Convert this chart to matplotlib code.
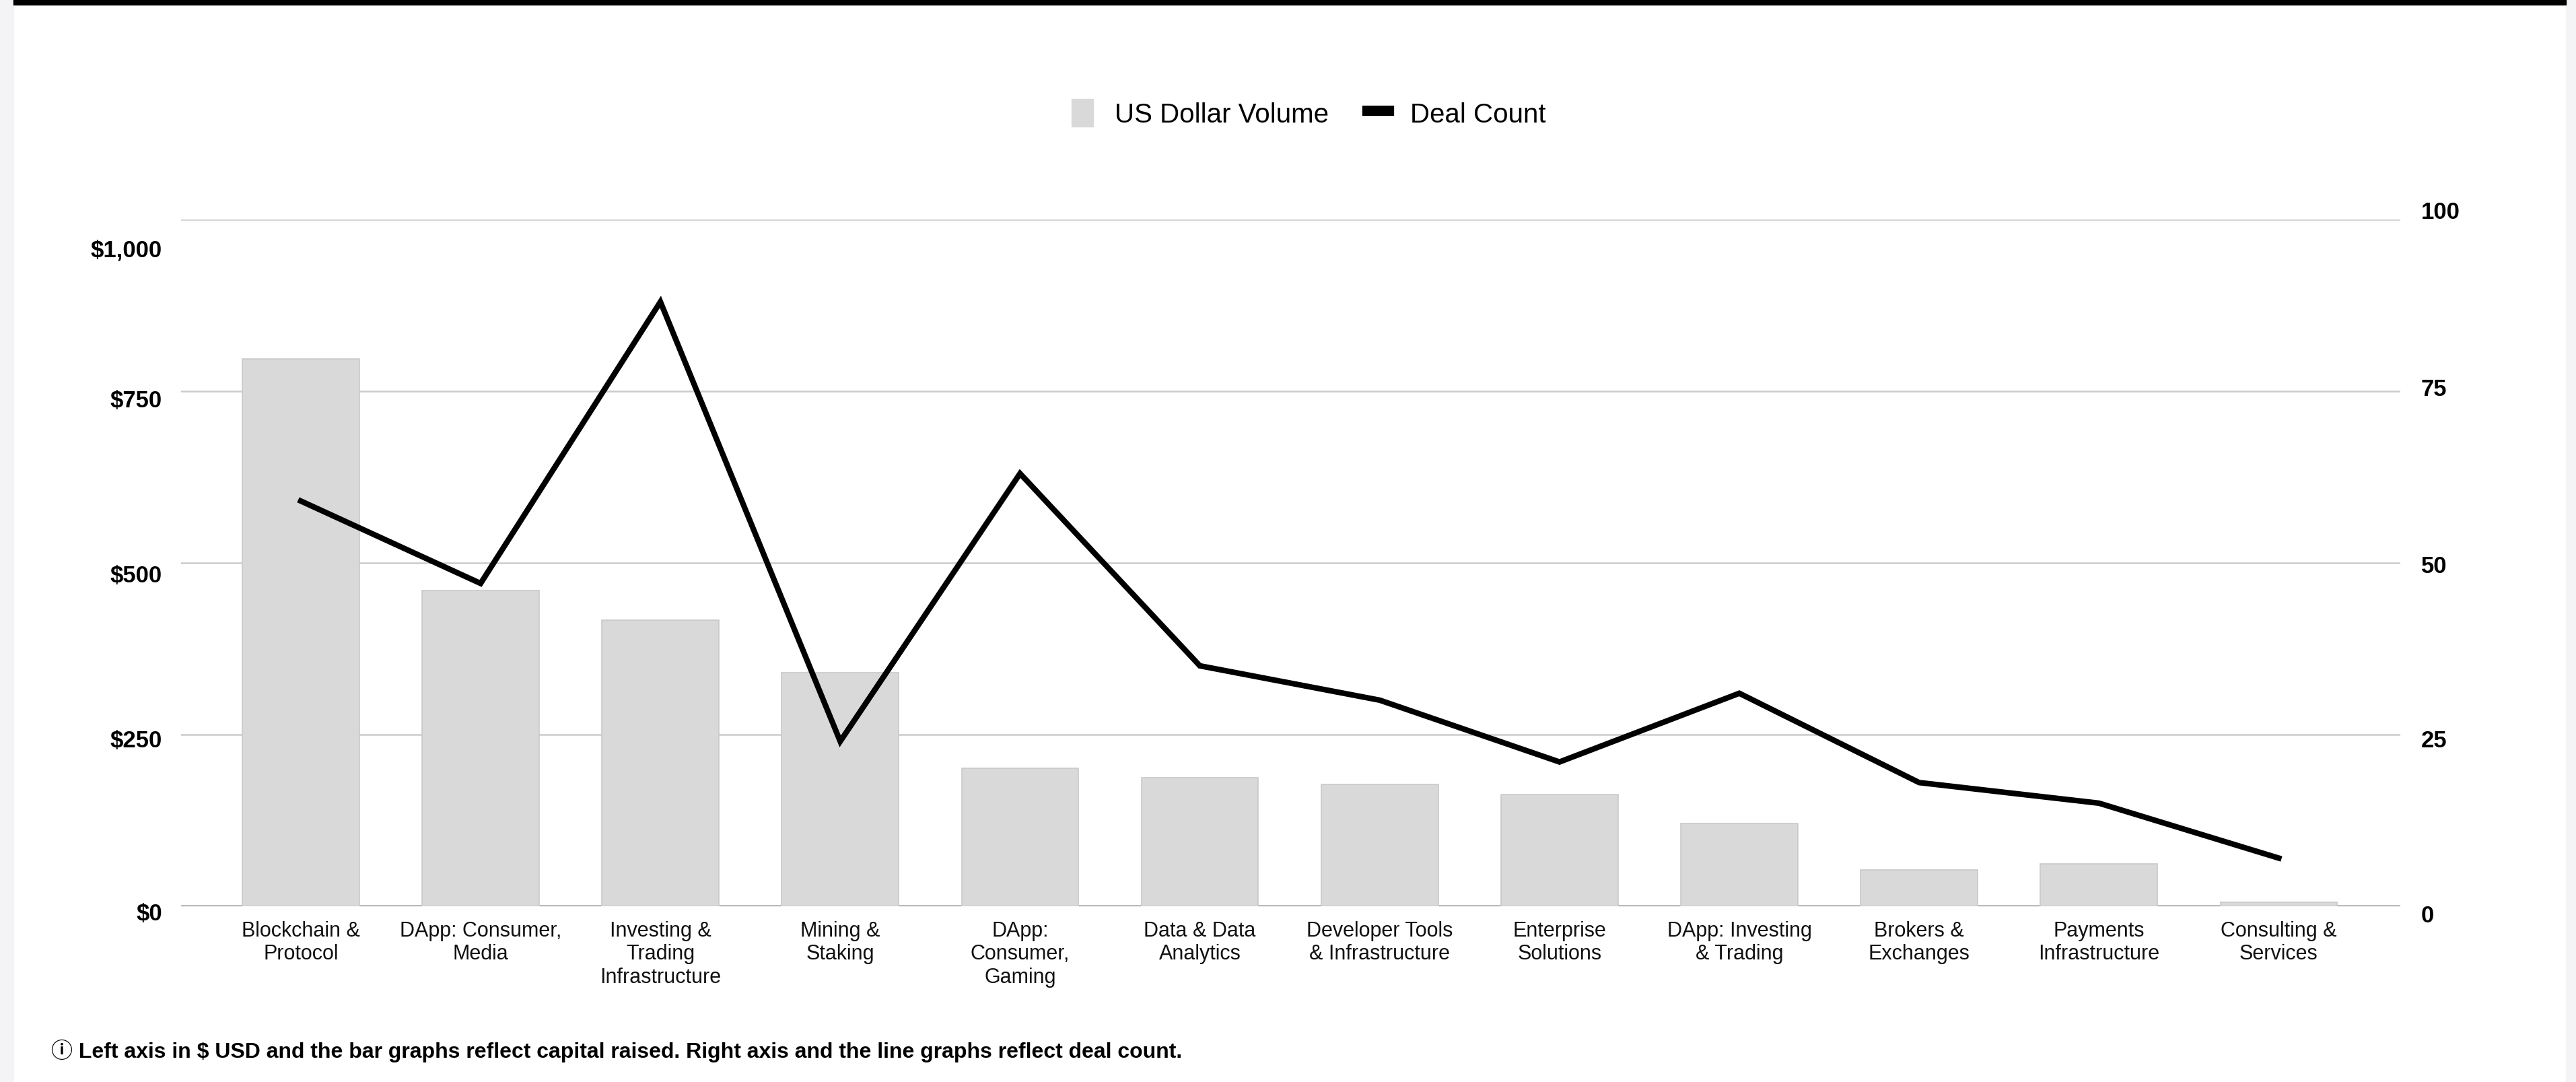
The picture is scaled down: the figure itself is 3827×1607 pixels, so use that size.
import numpy as np
import matplotlib.pyplot as plt
from matplotlib.patches import Patch, Rectangle
from matplotlib.lines import Line2D
from matplotlib.transforms import ScaledTranslation

plt.rcParams['font.family'] = ['Liberation Sans', 'Noto Sans CJK JP', 'DejaVu Sans']

# datos
categorias = [
    "Blockchain &\nProtocol",
    "DApp: Consumer,\nMedia",
    "Investing &\nTrading\nInfrastructure",
    "Mining &\nStaking",
    "DApp:\nConsumer,\nGaming",
    "Data & Data\nAnalytics",
    "Developer Tools\n& Infrastructure",
    "Enterprise\nSolutions",
    "DApp: Investing\n& Trading",
    "Brokers &\nExchanges",
    "Payments\nInfrastructure",
    "Consulting &\nServices",
]
volumen_usd = [797, 460, 417, 340, 201, 187, 177, 163, 120, 53, 62, 6]
num_deals = [59, 47, 88, 24, 63, 35, 30, 21, 31, 18, 15, 7]

ticks_izq = [0, 250, 500, 750, 1000]
etiquetas_izq = ["$0", "$250", "$500", "$750", "$1,000"]
ticks_der = [0, 25, 50, 75, 100]
etiquetas_der = ["0", "25", "50", "75", "100"]

nota = ("\u24d8 Left axis in $ USD and the bar graphs reflect capital raised. "
        "Right axis and the line graphs reflect deal count.")

fig = plt.figure(figsize=(38.27, 16.08), dpi=100, facecolor="white")

# marco de la pagina
fig.patches.append(Rectangle((0, 0), 20 / 3827, 1, transform=fig.transFigure,
                             color="#f4f4f6", zorder=-5))
fig.patches.append(Rectangle((3812 / 3827, 0), 1, 1, transform=fig.transFigure,
                             color="#f4f4f6", zorder=-5))
fig.patches.append(Rectangle((20 / 3827, 1 - 8 / 1608), 3792 / 3827, 8 / 1608,
                             transform=fig.transFigure, color="black", zorder=5))

ax = fig.add_axes([0.0702, 0.1624, 0.8616, 0.6343])
ax2 = ax.twinx()

x = np.arange(len(categorias))
ax.bar(x, volumen_usd, width=0.65, color="#d9d9d9", edgecolor="#c9c9c9",
       linewidth=1.2, zorder=3)
ax.axhline(0, color="#444444", linewidth=2.2, zorder=2)

ax2.plot(x, num_deals, color="black", linewidth=6, solid_joinstyle="miter",
         zorder=4)

ax.set_xlim(-0.667, len(categorias) - 1 + 0.676)
ax.set_ylim(0, 1000)
ax2.set_ylim(0, 100)

ax.set_yticks(ticks_izq)
ax.set_yticklabels(etiquetas_izq, fontsize=25, fontweight="bold")
ax2.set_yticks(ticks_der)
ax2.set_yticklabels(etiquetas_der, fontsize=25, fontweight="bold")
ax.set_xticks(x)
ax.set_xticklabels(categorias, fontsize=22, linespacing=1.2)

ax.grid(axis="y", color="#cccccc", linewidth=1.8, zorder=0)
ax.set_axisbelow(True)
ax.tick_params(axis="y", length=0, pad=20, colors="black")
ax2.tick_params(axis="y", length=0, pad=22, colors="black")
ax.tick_params(axis="x", length=0, pad=15, colors="#111111")

for a in (ax, ax2):
    for s in a.spines.values():
        s.set_visible(False)
ax2.grid(False)

# pequenos desplazamientos verticales de las etiquetas (pt)
desp_izq = [5, 4, 11, 7, 30]
desp_der = [7, 4, 1, -5, -11]
for lab, d in zip(ax.get_yticklabels(), desp_izq):
    lab.set_transform(lab.get_transform() +
                      ScaledTranslation(0, -d / 72, fig.dpi_scale_trans))
for lab, d in zip(ax2.get_yticklabels(), desp_der):
    lab.set_transform(lab.get_transform() +
                      ScaledTranslation(0, -d / 72, fig.dpi_scale_trans))

# leyenda
handles = [
    Patch(facecolor="#d9d9d9", edgecolor="#d9d9d9", label="US Dollar Volume"),
    Line2D([0], [0], color="black", linewidth=11, label="Deal Count"),
]
fig.legend(handles=handles, loc="center", bbox_to_anchor=(0.508, 0.895),
           ncol=2, frameon=False, fontsize=29, handlelength=0.8,
           handleheight=1.2, handletextpad=0.8, columnspacing=1.4)

fig.text(0.0198, 0.029, nota, fontsize=23, fontweight="bold",
         ha="left", va="center")

fig.savefig("out.png", dpi=100, facecolor=fig.get_facecolor())
